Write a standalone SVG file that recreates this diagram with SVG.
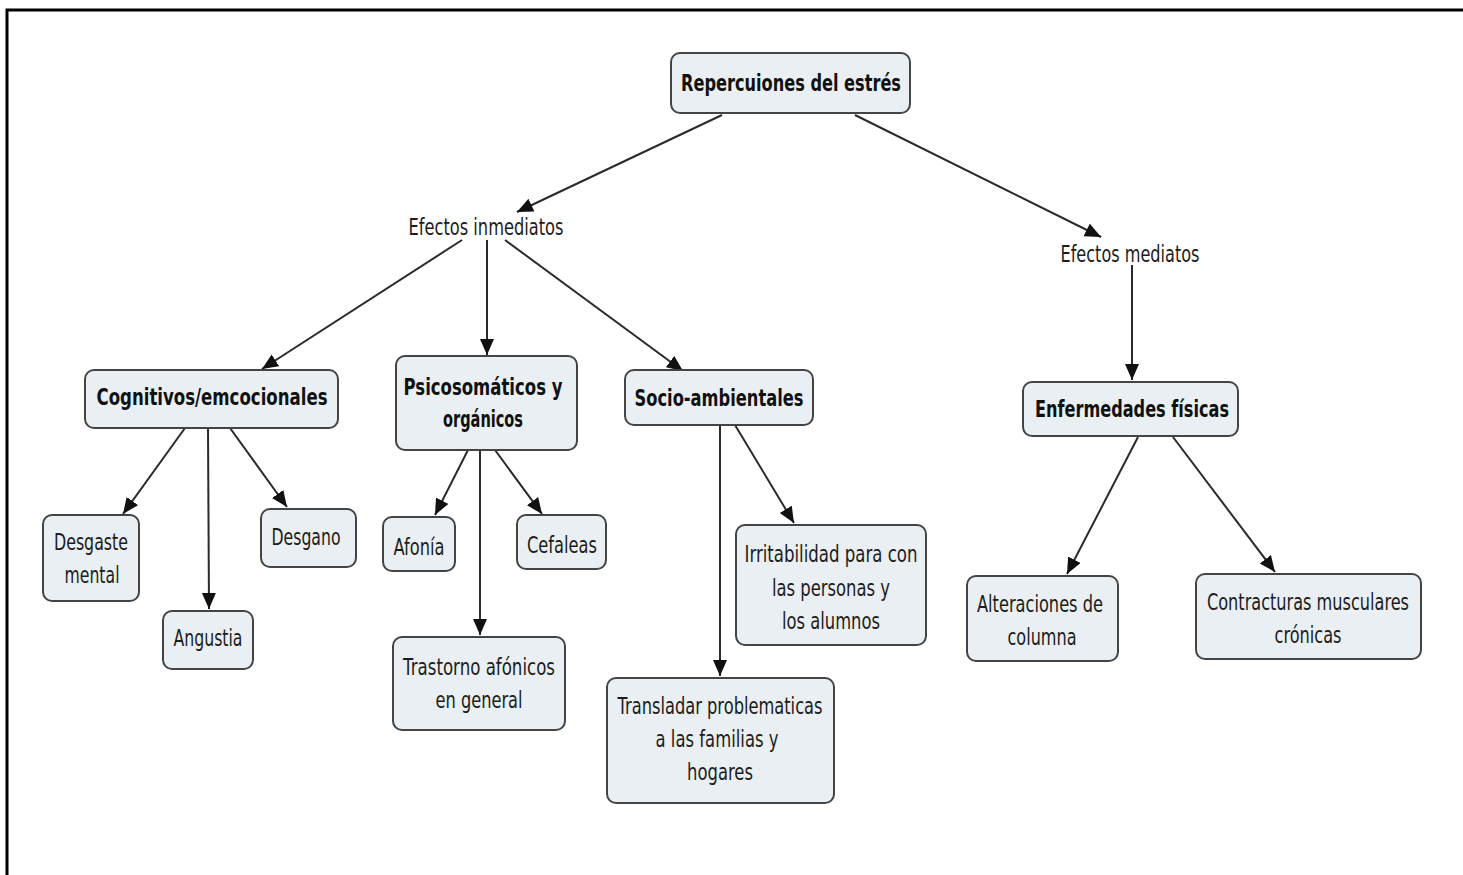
<svg xmlns="http://www.w3.org/2000/svg" width="1463" height="875" viewBox="0 0 1463 875">
<style>
.box{fill:#e9eff2;stroke:#444;stroke-width:2}
.t{font-family:"DejaVu Sans",Verdana,sans-serif;font-size:23px;fill:#1c1c1c;text-anchor:middle}
.b{font-weight:bold;fill:#111}
.c{stroke:#2a2a2a;stroke-width:2;fill:none;marker-end:url(#ah)}
</style>
<defs>
<marker id="ah" markerUnits="userSpaceOnUse" markerWidth="17" markerHeight="15" refX="16" refY="7" orient="auto">
<path d="M0,0 L16,7 L0,14 z" fill="#111"/>
</marker>
</defs>
<rect x="0" y="0" width="1463" height="875" fill="#fff"/>
<path d="M7,875 V10 H1463" fill="none" stroke="#000" stroke-width="3"/>

<g id="connectors">
<line class="c" x1="722" y1="115" x2="517" y2="212"/>
<line class="c" x1="855" y1="115" x2="1101" y2="237"/>
<line class="c" x1="462" y1="240" x2="262" y2="369"/>
<line class="c" x1="487" y1="240" x2="487" y2="355"/>
<line class="c" x1="505" y1="240" x2="683" y2="371"/>
<line class="c" x1="1132" y1="265" x2="1132" y2="380"/>
<line class="c" x1="185" y1="428" x2="123" y2="514"/>
<line class="c" x1="208" y1="428" x2="209" y2="609"/>
<line class="c" x1="230" y1="428" x2="287" y2="507"/>
<line class="c" x1="468" y1="450" x2="435" y2="515"/>
<line class="c" x1="480" y1="450" x2="480" y2="635"/>
<line class="c" x1="495" y1="450" x2="542" y2="514"/>
<line class="c" x1="720" y1="425" x2="720" y2="676"/>
<line class="c" x1="735" y1="425" x2="794" y2="523"/>
<line class="c" x1="1138" y1="437" x2="1067" y2="574"/>
<line class="c" x1="1173" y1="437" x2="1275" y2="572"/>
</g>

<g id="n-repercuiones">
<rect class="box" x="671" y="53" width="239" height="60" rx="9"/>
<text class="t b" x="791" y="91" font-size="24" textLength="220" lengthAdjust="spacingAndGlyphs">Repercuiones del estrés</text>
</g>
<g id="n-inmediatos">
<text class="t" x="486" y="235" textLength="155" lengthAdjust="spacingAndGlyphs">Efectos inmediatos</text>
</g>
<g id="n-mediatos">
<text class="t" x="1130" y="262" textLength="139" lengthAdjust="spacingAndGlyphs">Efectos mediatos</text>
</g>
<g id="n-cognitivos">
<rect class="box" x="85" y="370" width="253" height="58" rx="9"/>
<text class="t b" x="212" y="405" textLength="231" lengthAdjust="spacingAndGlyphs">Cognitivos/emcocionales</text>
</g>
<g id="n-psicosomaticos">
<rect class="box" x="396" y="356" width="181" height="94" rx="9"/>
<text class="t b" x="483" y="395" textLength="159" lengthAdjust="spacingAndGlyphs">Psicosomáticos y</text>
<text class="t b" x="483" y="427" textLength="80" lengthAdjust="spacingAndGlyphs">orgánicos</text>
</g>
<g id="n-socio">
<rect class="box" x="625" y="370" width="188" height="55" rx="9"/>
<text class="t b" x="719" y="406" textLength="169" lengthAdjust="spacingAndGlyphs">Socio-ambientales</text>
</g>
<g id="n-enfermedades">
<rect class="box" x="1023" y="382" width="215" height="54" rx="9"/>
<text class="t b" x="1132" y="417" textLength="194" lengthAdjust="spacingAndGlyphs">Enfermedades físicas</text>
</g>
<g id="n-desgaste">
<rect class="box" x="43" y="515" width="96" height="86" rx="9"/>
<text class="t" x="91" y="550" textLength="74" lengthAdjust="spacingAndGlyphs">Desgaste</text>
<text class="t" x="92" y="583" textLength="55" lengthAdjust="spacingAndGlyphs">mental</text>
</g>
<g id="n-angustia">
<rect class="box" x="163" y="611" width="90" height="58" rx="9"/>
<text class="t" x="208" y="646" textLength="69" lengthAdjust="spacingAndGlyphs">Angustia</text>
</g>
<g id="n-desgano">
<rect class="box" x="261" y="509" width="95" height="58" rx="9"/>
<text class="t" x="306" y="545" textLength="69" lengthAdjust="spacingAndGlyphs">Desgano</text>
</g>
<g id="n-afonia">
<rect class="box" x="383" y="517" width="72" height="54" rx="9"/>
<text class="t" x="419" y="555" textLength="51" lengthAdjust="spacingAndGlyphs">Afonía</text>
</g>
<g id="n-cefaleas">
<rect class="box" x="517" y="515" width="89" height="54" rx="9"/>
<text class="t" x="562" y="553" textLength="70" lengthAdjust="spacingAndGlyphs">Cefaleas</text>
</g>
<g id="n-trastorno">
<rect class="box" x="393" y="637" width="172" height="93" rx="9"/>
<text class="t" x="479" y="675" textLength="152" lengthAdjust="spacingAndGlyphs">Trastorno afónicos</text>
<text class="t" x="479" y="708" textLength="87" lengthAdjust="spacingAndGlyphs">en general</text>
</g>
<g id="n-irritabilidad">
<rect class="box" x="736" y="525" width="190" height="120" rx="9"/>
<text class="t" x="831" y="562" textLength="173" lengthAdjust="spacingAndGlyphs">Irritabilidad para con</text>
<text class="t" x="831" y="596" textLength="118" lengthAdjust="spacingAndGlyphs">las personas y</text>
<text class="t" x="831" y="629" textLength="98" lengthAdjust="spacingAndGlyphs">los alumnos</text>
</g>
<g id="n-translada">
<rect class="box" x="607" y="678" width="227" height="125" rx="9"/>
<text class="t" x="720" y="714" textLength="205" lengthAdjust="spacingAndGlyphs">Transladar problematicas</text>
<text class="t" x="717" y="747" textLength="123" lengthAdjust="spacingAndGlyphs">a las familias y</text>
<text class="t" x="720" y="780" textLength="66" lengthAdjust="spacingAndGlyphs">hogares</text>
</g>
<g id="n-alteraciones">
<rect class="box" x="967" y="576" width="151" height="85" rx="9"/>
<text class="t" x="1040" y="612" textLength="126" lengthAdjust="spacingAndGlyphs">Alteraciones de</text>
<text class="t" x="1042" y="645" textLength="69" lengthAdjust="spacingAndGlyphs">columna</text>
</g>
<g id="n-contracturas">
<rect class="box" x="1196" y="574" width="225" height="85" rx="9"/>
<text class="t" transform="translate(1308,610) scale(0.7,1)" x="0" y="0" textLength="288.6" lengthAdjust="spacingAndGlyphs">Contracturas musculares</text>
<text class="t" x="1308" y="643" textLength="67" lengthAdjust="spacingAndGlyphs">crónicas</text>
</g>
</svg>
